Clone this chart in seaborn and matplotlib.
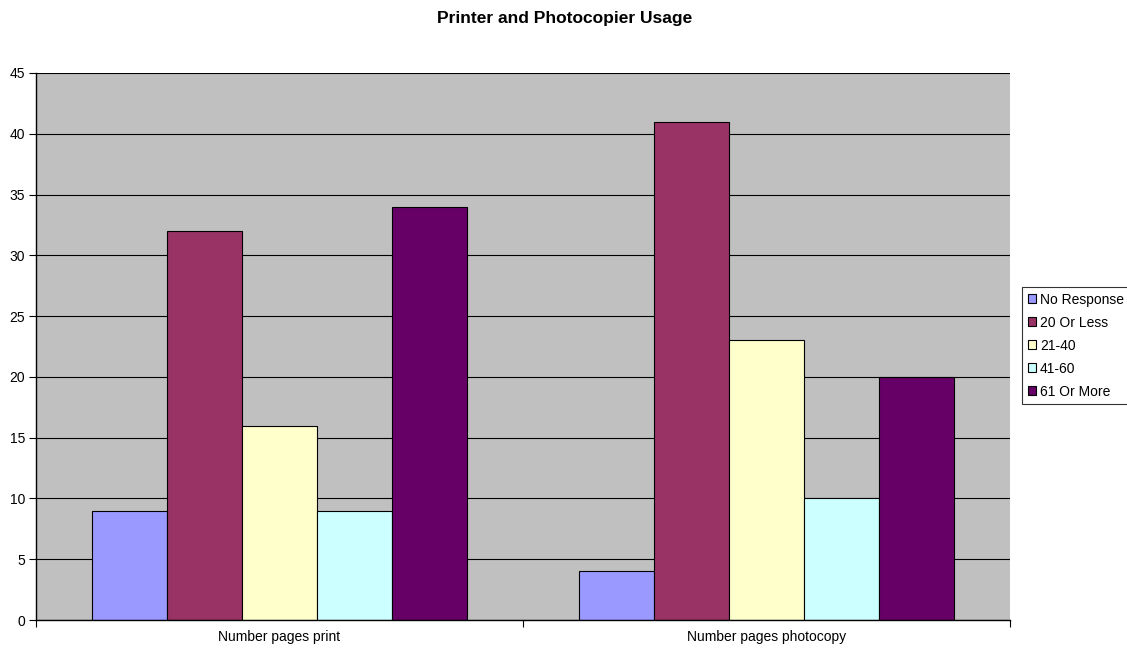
import matplotlib
matplotlib.use("Agg")
import matplotlib.pyplot as plt
import seaborn as sns
import pandas as pd
from matplotlib.patches import Patch

categories = ["Number pages print", "Number pages photocopy"]
series = ["No Response", "20 Or Less", "21-40", "41-60", "61 Or More"]
no_response = [9, 4]
twenty_or_less = [32, 41]
r21_40 = [16, 23]
r41_60 = [9, 10]
r61_more = [34, 20]
colors = ["#9999FF", "#993366", "#FFFFCC", "#CCFFFF", "#660066"]

values = [no_response, twenty_or_less, r21_40, r41_60, r61_more]
rows = []
for s, vals in zip(series, values):
    for c, v in zip(categories, vals):
        rows.append({"category": c, "series": s, "value": v})
df = pd.DataFrame(rows)

sns.set_theme(style="white")
plt.rcParams['font.family'] = ['Liberation Sans', 'DejaVu Sans']
plt.rcParams['text.color'] = 'black'
plt.rcParams['xtick.color'] = 'black'
plt.rcParams['ytick.color'] = 'black'

fig = plt.figure(figsize=(11.27, 6.49), dpi=100)
ax = fig.add_axes([36/1127, 1-620/649, (1010-36)/1127, (620-73)/649])
ax.set_facecolor("#C0C0C0")

sns.barplot(data=df, x="category", y="value", hue="series", order=categories,
            hue_order=series, palette=colors, width=0.77, gap=0,
            edgecolor="black", linewidth=0.8, ax=ax, legend=False, saturation=1)

ax.set_ylim(0, 45)
ax.set_xlim(-0.5, 1.5)
ax.set_yticks(range(0, 46, 5))
ax.yaxis.grid(True, color="black", linewidth=0.8)
ax.set_axisbelow(True)
ax.set_xlabel("")
ax.set_ylabel("")

for side in ["top", "right"]:
    ax.spines[side].set_visible(False)
ax.spines["left"].set_color("black")
ax.spines["bottom"].set_color("black")
ax.spines["left"].set_linewidth(1)
ax.spines["bottom"].set_linewidth(1)

ax.tick_params(axis="y", which="major", direction="out", length=5, color="black",
               labelsize=10, left=True, pad=3, width=0.8, labelcolor="black")
ax.tick_params(axis="x", which="major", length=0, labelsize=10, pad=7, labelcolor="black")
ax.set_xticks([-0.5, 0.5, 1.5], minor=True)
ax.tick_params(axis="x", which="minor", direction="out", length=5, color="black", bottom=True, width=0.8)

fig.text(565/1127, 1-19/649, "Printer and Photocopier Usage", ha="center", va="center",
         fontsize=12.5, fontweight="bold", color="black")

handles = [Patch(facecolor=c, edgecolor="black", linewidth=0.8, label=s) for s, c in zip(series, colors)]
leg = fig.legend(handles=handles, loc="upper left", bbox_to_anchor=(1022/1127, 1-287/649),
                 frameon=True, fancybox=False, fontsize=10, handlelength=0.6, handleheight=0.6,
                 handletextpad=0.3, borderpad=0.4, labelspacing=0.65, borderaxespad=0)
leg.get_frame().set_edgecolor("black")
leg.get_frame().set_linewidth(0.8)
for t in leg.get_texts():
    t.set_color("black")

fig.savefig("out.png", dpi=100, facecolor="white")
